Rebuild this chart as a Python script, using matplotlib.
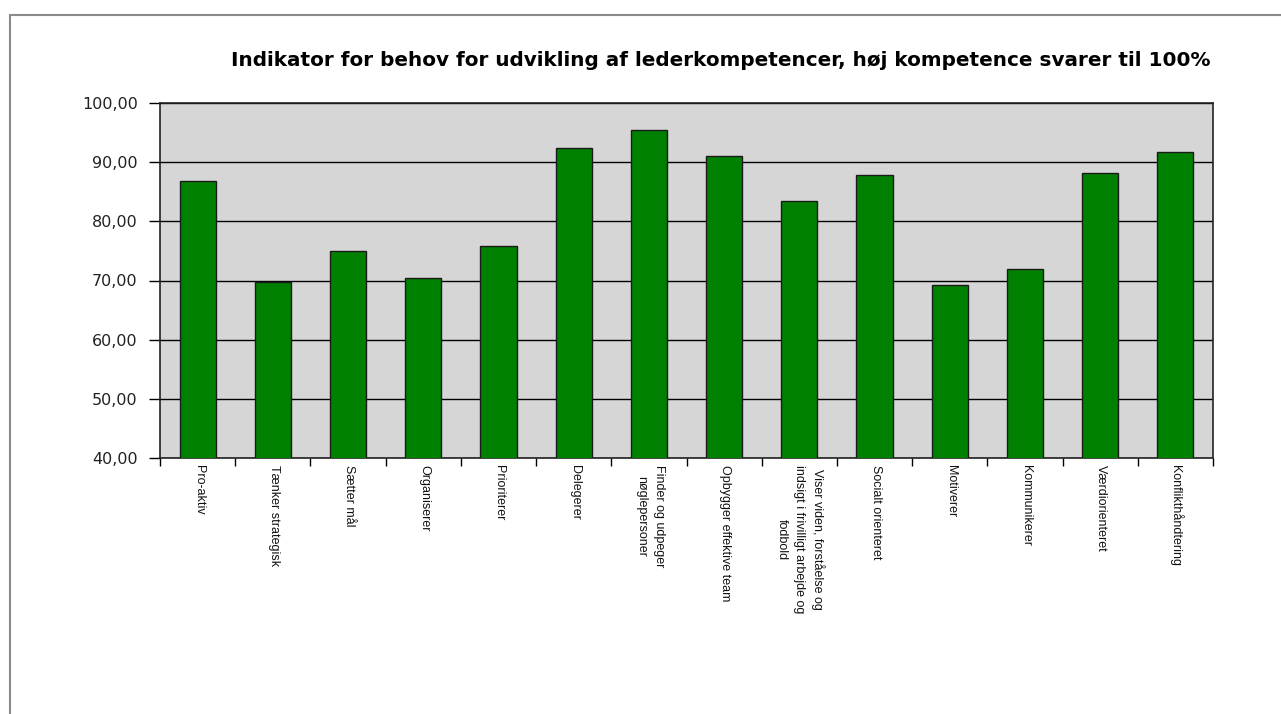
import matplotlib
matplotlib.use("Agg")
import matplotlib.pyplot as plt
from matplotlib.ticker import FuncFormatter, FixedLocator, NullFormatter
from matplotlib.patches import Rectangle
import matplotlib.transforms as mtransforms
import numpy as np

categories = [
    "Pro-aktiv",
    "Tænker strategisk",
    "Sætter mål",
    "Organiserer",
    "Prioriterer",
    "Delegerer",
    "Finder og udpeger\nnøglepersoner",
    "Opbygger effektive team",
    "Viser viden, forståelse og\nindsigt i frivilligt arbejde og\nfodbold",
    "Socialt orienteret",
    "Motiverer",
    "Kommunikerer",
    "Værdiorienteret",
    "Konflikthåndtering",
]
values = [86.8, 69.7, 75.0, 70.4, 75.8, 92.4, 95.4, 91.0, 83.4, 87.8, 69.2, 72.0, 88.2, 91.7]
title = "Indikator for behov for udvikling af lederkompetencer, høj kompetence svarer til 100%"
y_ticks = [40, 50, 60, 70, 80, 90, 100]

plt.rcParams['font.family'] = ['Liberation Sans', 'DejaVu Sans']

W, H = 1281, 714
fig = plt.figure(figsize=(W / 100, H / 100), dpi=100)
fig.patch.set_facecolor("white")

# outer frame
fig.patches.append(Rectangle((9.5 / W, -0.1), 1.2, 1 - 15 / H + 0.1, transform=fig.transFigure,
                             fill=False, edgecolor="#8a8a8a", lw=1.5))

left, right, top, bottom = 160, 1213, 103, 458
ax = fig.add_axes([left / W, 1 - bottom / H, (right - left) / W, (bottom - top) / H])
ax.set_facecolor("#d6d6d6")

x = np.arange(len(categories))
ax.bar(x, values, width=0.48, color="#008000", edgecolor="#1a1a1a", linewidth=1.0, zorder=3)

ax.set_xlim(-0.5, len(categories) - 0.5)
ax.set_ylim(40, 100)
ax.set_yticks(y_ticks)
ax.yaxis.set_major_formatter(FuncFormatter(lambda v, p: f"{v:.2f}".replace(".", ",")))
ax.grid(axis="y", color="black", linewidth=1.0, zorder=1)
ax.set_axisbelow(True)

ax.tick_params(axis="y", direction="out", length=8, width=1, pad=8, colors="black")
for lab in ax.get_yticklabels():
    lab.set_color("#222222")
    lab.set_family("DejaVu Sans")
    lab.set_fontsize(11.5)

ax.set_xticks(x)
ax.set_xticklabels([])
ax.tick_params(axis="x", which="major", length=0)
ax.xaxis.set_minor_locator(FixedLocator(np.arange(-0.5, len(categories), 1.0)))
ax.xaxis.set_minor_formatter(NullFormatter())
ax.tick_params(axis="x", which="minor", direction="out", length=6, width=1)

offset = mtransforms.offset_copy(ax.get_xaxis_transform(), fig=fig, x=1, y=-7, units="dots")
for xi, cat in zip(x, categories):
    ax.text(xi, 0, cat, rotation=270, ha="center", va="top", fontsize=9,
            transform=offset, linespacing=1.65, color="#111111")

for s in ax.spines.values():
    s.set_color("#222222")
    s.set_linewidth(1.2)

t = fig.text(721 / W, 1 - 61 / H, title, ha="center", va="center", fontsize=12,
             fontweight="bold", color="black", family="DejaVu Sans")
fig.canvas.draw()
w = t.get_window_extent().width
t.set_fontsize(12 * 978 / w)

fig.savefig("out.png", dpi=100)
